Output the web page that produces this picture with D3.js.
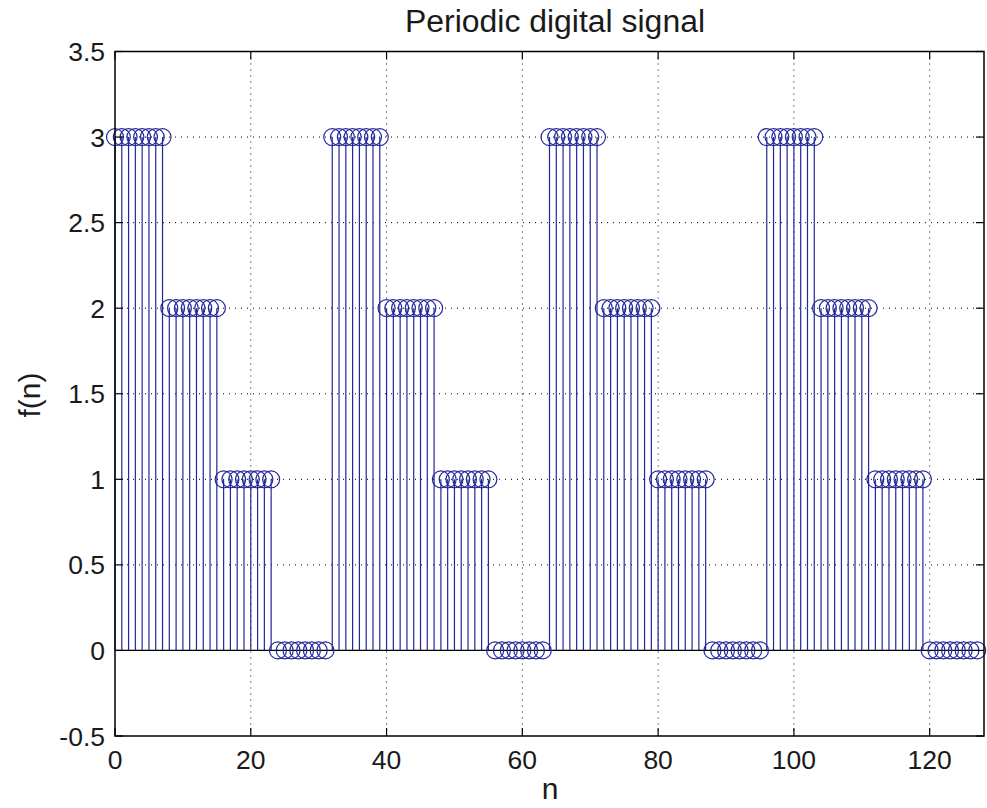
<!DOCTYPE html>
<html><head><meta charset="utf-8">
<script src="https://cdn.jsdelivr.net/npm/d3@7"></script>
<style>body{margin:0;background:#fff}svg{display:block}</style>
</head><body>
<script>
// Data: n = 0..127, period 32, levels 3,2,1,0 each held for 8 samples
const nValues = d3.range(0, 128);
const fValues = [
  3,3,3,3,3,3,3,3, 2,2,2,2,2,2,2,2, 1,1,1,1,1,1,1,1, 0,0,0,0,0,0,0,0,
  3,3,3,3,3,3,3,3, 2,2,2,2,2,2,2,2, 1,1,1,1,1,1,1,1, 0,0,0,0,0,0,0,0,
  3,3,3,3,3,3,3,3, 2,2,2,2,2,2,2,2, 1,1,1,1,1,1,1,1, 0,0,0,0,0,0,0,0,
  3,3,3,3,3,3,3,3, 2,2,2,2,2,2,2,2, 1,1,1,1,1,1,1,1, 0,0,0,0,0,0,0,0
];
const xTicks = [0, 20, 40, 60, 80, 100, 120];
const yTicks = [-0.5, 0, 0.5, 1, 1.5, 2, 2.5, 3, 3.5];
const titleText = "Periodic digital signal";
const xLabel = "n";
const yLabel = "f(n)";

const W = 987, H = 808;
const L = 115, R = 984, T = 51.5, B = 736;
const font = "'Liberation Sans', Arial, Helvetica, sans-serif";
const blue = "#24279a";
const textCol = "#1a1a1a";

const svg = d3.select("body").append("svg").attr("width", W).attr("height", H);
const x = d3.scaleLinear().domain([0, 128]).range([L, R]);
const y = d3.scaleLinear().domain([-0.5, 3.5]).range([B, T]);

// grid
const grid = svg.append("g").attr("stroke", "#000").attr("stroke-width", 1)
  .attr("stroke-dasharray", "1,5").attr("fill", "none");
xTicks.slice(1).forEach(t => grid.append("line")
  .attr("x1", x(t)).attr("x2", x(t)).attr("y1", T).attr("y2", B));
yTicks.slice(1, -1).forEach(t => grid.append("line")
  .attr("x1", L).attr("x2", R).attr("y1", y(t)).attr("y2", y(t)));

// stems
const data = nValues.map((n, i) => ({n, v: fValues[i]}));
svg.append("g").selectAll("line").data(data).join("line")
  .attr("x1", d => x(d.n)).attr("x2", d => x(d.n))
  .attr("y1", y(0)).attr("y2", d => y(d.v))
  .attr("stroke", blue).attr("stroke-width", 1.2);
// baseline
svg.append("line").attr("x1", x(0)).attr("x2", x(127)).attr("y1", y(0)).attr("y2", y(0))
  .attr("stroke", "#000").attr("stroke-width", 1.3);
// markers
svg.append("g").selectAll("circle").data(data).join("circle")
  .attr("cx", d => x(d.n)).attr("cy", d => y(d.v)).attr("r", 8.5)
  .attr("fill", "none").attr("stroke", blue).attr("stroke-width", 1.2);

// axes box
svg.append("rect").attr("x", L).attr("y", T).attr("width", R - L).attr("height", B - T)
  .attr("fill", "none").attr("stroke", "#000").attr("stroke-width", 1.5);

// ticks (inward, both sides)
const tk = 8;
const tg = svg.append("g").attr("stroke", "#000").attr("stroke-width", 1.2);
xTicks.forEach(t => {
  tg.append("line").attr("x1", x(t)).attr("x2", x(t)).attr("y1", B).attr("y2", B - tk);
  tg.append("line").attr("x1", x(t)).attr("x2", x(t)).attr("y1", T).attr("y2", T + tk);
});
yTicks.forEach(t => {
  tg.append("line").attr("x1", L).attr("x2", L + tk).attr("y1", y(t)).attr("y2", y(t));
  tg.append("line").attr("x1", R).attr("x2", R - tk).attr("y1", y(t)).attr("y2", y(t));
});

// tick labels
svg.append("g").selectAll("text").data(xTicks).join("text")
  .attr("x", d => x(d)).attr("y", 769).attr("text-anchor", "middle")
  .attr("font-family", font).attr("font-size", 26.5).attr("fill", textCol)
  .text(d => d);
svg.append("g").selectAll("text").data(yTicks).join("text")
  .attr("x", 105).attr("y", d => y(d)).attr("dy", "0.36em").attr("text-anchor", "end")
  .attr("font-family", font).attr("font-size", 26.5).attr("fill", textCol)
  .text(d => d);

// title & labels
svg.append("text").attr("x", 555).attr("y", 32).attr("text-anchor", "middle")
  .attr("font-family", font).attr("font-size", 31).attr("fill", textCol)
  .attr("textLength", 300).attr("lengthAdjust", "spacingAndGlyphs").text(titleText);
svg.append("text").attr("x", 550).attr("y", 799).attr("text-anchor", "middle")
  .attr("font-family", font).attr("font-size", 30).attr("fill", textCol).text(xLabel);
svg.append("text").attr("transform", `translate(40,395) rotate(-90)`)
  .attr("text-anchor", "middle")
  .attr("font-family", font).attr("font-size", 30).attr("fill", textCol).text(yLabel);
</script>
</body></html>
